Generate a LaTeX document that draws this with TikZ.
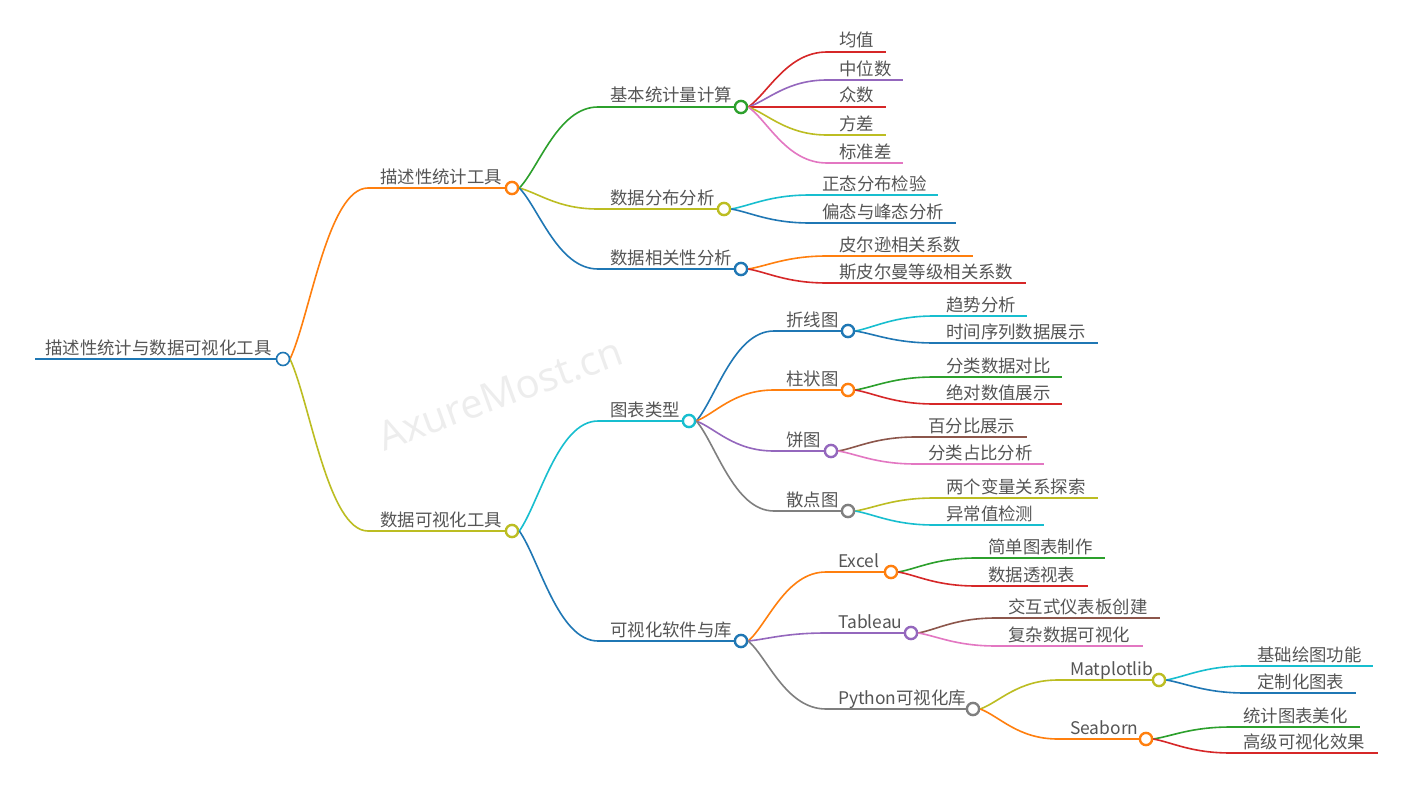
\documentclass[tikz,border=0pt]{standalone}
\usepackage{fontspec}
\setmainfont{Noto Sans CJK SC}
\newfontfamily\wmfont{Open Sans}
\usetikzlibrary{calc}
\definecolor{cblue}{HTML}{1F77B4}
\definecolor{corange}{HTML}{FF7F0E}
\definecolor{cgreen}{HTML}{2CA02C}
\definecolor{cred}{HTML}{D62728}
\definecolor{cpurple}{HTML}{9467BD}
\definecolor{cbrown}{HTML}{8C564B}
\definecolor{cpink}{HTML}{E377C2}
\definecolor{cgray}{HTML}{7F7F7F}
\definecolor{colive}{HTML}{BCBD22}
\definecolor{ccyan}{HTML}{17BECF}
\definecolor{txt}{HTML}{555555}
\tikzset{
  lbl/.style={anchor=base west, inner sep=0pt, text=txt, font=\fontsize{17.4}{20}\selectfont},
  ul/.style={line width=1.6pt},
  conn/.style={line width=1.6pt},
  dotc/.style={circle, draw=#1, fill=white, line width=1.6pt, minimum size=13pt, inner sep=0pt},
}
% parent node: name, textx, uy, circle x, colour, text
\newcommand\mmparent[6]{%
  \coordinate (#1L) at (#2-12,#3);
  \node[lbl] (#1T) at (#2,#3-5) {#6};
  \draw[#5, ul] (#1L) -- (#4,#3);
  \node[dotc=#5] (#1) at (#4,#3) {};
}
% leaf node: name, textx, uy, end x, colour, text
\newcommand\mmleaf[6]{%
  \coordinate (#1L) at (#2-12,#3);
  \coordinate (#1R) at (#4,#3);
  \node[lbl] (#1T) at (#2,#3-5) {#6};
  \draw[#5, ul] (#1L) -- (#1R);
}
% connector: parent, child, colour
\newcommand\mmlink[3]{%
  \draw[#3, conn] (#1.east) .. controls ($(#1.east)!0.25!(#2L)$) and +(-40,0) .. (#2L);
}
\begin{document}
\begin{tikzpicture}[x=1pt, y=-1pt]
\fill[white] (0,0) rectangle (1411,792);
\useasboundingbox (0,0) rectangle (1411,792);
% watermark
\node[rotate=20, text=black!7, font=\wmfont\fontsize{40}{46}\selectfont] (wm) at (500,394) {AxureMost.cn};

% connectors from the root
\coordinate (R0) at (290,359);
\draw[corange, conn] (R0) .. controls ($(R0)!0.25!(370,188)$) and (328,188) .. (368,188);
\draw[colive, conn] (R0) .. controls ($(R0)!0.25!(370,531)$) and (328,531) .. (368,531);

% ---------- nodes ----------
\coordinate (RL) at (35,359);
\node[lbl] (RT) at (45,354) {描述性统计与数据可视化工具};
\draw[cblue, ul] (RL) -- (283,359);

\mmparent{A}{380}{188}{512}{corange}{描述性统计工具}
\mmparent{B}{380}{531}{512}{colive}{数据可视化工具}

\mmparent{AA}{610}{107}{741}{cgreen}{基本统计量计算}
\mmparent{AB}{610}{209}{724}{colive}{数据分布分析}
\mmparent{AC}{610}{269}{741}{cblue}{数据相关性分析}

\mmleaf{AAa}{839}{52}{886}{cred}{均值}
\mmleaf{AAb}{839}{80}{903}{cpurple}{中位数}
\mmleaf{AAc}{839}{107}{886}{cred}{众数}
\mmleaf{AAd}{839}{135}{886}{colive}{方差}
\mmleaf{AAe}{839}{163}{903}{cpink}{标准差}

\mmleaf{ABa}{822}{195}{938}{ccyan}{正态分布检验}
\mmleaf{ABb}{822}{223}{956}{cblue}{偏态与峰态分析}

\mmleaf{ACa}{839}{256}{973}{corange}{皮尔逊相关系数}
\mmleaf{ACb}{839}{283}{1026}{cred}{斯皮尔曼等级相关系数}

\mmparent{BA}{610}{421}{689}{ccyan}{图表类型}
\mmparent{BB}{610}{641}{741}{cblue}{可视化软件与库}

\mmparent{BAa}{786}{331}{848}{cblue}{折线图}
\mmparent{BAb}{786}{390}{848}{corange}{柱状图}
\mmparent{BAc}{786}{451}{831}{cpurple}{饼图}
\mmparent{BAd}{786}{511}{848}{cgray}{散点图}

\mmleaf{BAa1}{946}{316}{1027}{ccyan}{趋势分析}
\mmleaf{BAa2}{946}{343}{1098}{cblue}{时间序列数据展示}
\mmleaf{BAb1}{946}{377}{1062}{cgreen}{分类数据对比}
\mmleaf{BAb2}{946}{404}{1062}{cred}{绝对数值展示}
\mmleaf{BAc1}{928}{437}{1027}{cbrown}{百分比展示}
\mmleaf{BAc2}{928}{464}{1044}{cpink}{分类占比分析}
\mmleaf{BAd1}{946}{498}{1098}{colive}{两个变量关系探索}
\mmleaf{BAd2}{946}{525}{1044}{ccyan}{异常值检测}

\mmparent{BBa}{838}{572}{891}{corange}{Excel}
\mmparent{BBb}{838}{633}{911}{cpurple}{Tableau}
\mmparent{BBc}{838}{709}{973}{cgray}{Python可视化库}

\mmleaf{BBa1}{988}{558}{1105}{cgreen}{简单图表制作}
\mmleaf{BBa2}{988}{586}{1088}{cred}{数据透视表}
\mmleaf{BBb1}{1008}{618}{1160}{cbrown}{交互式仪表板创建}
\mmleaf{BBb2}{1008}{646}{1143}{cpink}{复杂数据可视化}

\mmparent{BBc1}{1070}{680}{1159}{colive}{Matplotlib}
\mmparent{BBc2}{1070}{739}{1146}{corange}{Seaborn}

\mmleaf{M1}{1257}{666}{1373}{ccyan}{基础绘图功能}
\mmleaf{M2}{1257}{693}{1356}{cblue}{定制化图表}
\mmleaf{S1}{1243}{727}{1360}{cgreen}{统计图表美化}
\mmleaf{S2}{1243}{753}{1378}{cred}{高级可视化效果}

% ---------- connectors ----------
\mmlink{A}{AA}{cgreen}
\mmlink{A}{AB}{colive}
\mmlink{A}{AC}{cblue}
\mmlink{AA}{AAa}{cred}
\mmlink{AA}{AAb}{cpurple}
\mmlink{AA}{AAc}{cred}
\mmlink{AA}{AAd}{colive}
\mmlink{AA}{AAe}{cpink}
\mmlink{AB}{ABa}{ccyan}
\mmlink{AB}{ABb}{cblue}
\mmlink{AC}{ACa}{corange}
\mmlink{AC}{ACb}{cred}
\mmlink{B}{BA}{ccyan}
\mmlink{B}{BB}{cblue}
\mmlink{BA}{BAa}{cblue}
\mmlink{BA}{BAb}{corange}
\mmlink{BA}{BAc}{cpurple}
\mmlink{BA}{BAd}{cgray}
\mmlink{BAa}{BAa1}{ccyan}
\mmlink{BAa}{BAa2}{cblue}
\mmlink{BAb}{BAb1}{cgreen}
\mmlink{BAb}{BAb2}{cred}
\mmlink{BAc}{BAc1}{cbrown}
\mmlink{BAc}{BAc2}{cpink}
\mmlink{BAd}{BAd1}{colive}
\mmlink{BAd}{BAd2}{ccyan}
\mmlink{BB}{BBa}{corange}
\mmlink{BB}{BBb}{cpurple}
\mmlink{BB}{BBc}{cgray}
\mmlink{BBa}{BBa1}{cgreen}
\mmlink{BBa}{BBa2}{cred}
\mmlink{BBb}{BBb1}{cbrown}
\mmlink{BBb}{BBb2}{cpink}
\mmlink{BBc}{BBc1}{colive}
\mmlink{BBc}{BBc2}{corange}
\mmlink{BBc1}{M1}{ccyan}
\mmlink{BBc1}{M2}{cblue}
\mmlink{BBc2}{S1}{cgreen}
\mmlink{BBc2}{S2}{cred}

% redraw circles on top of the connectors
\foreach \n/\c in {A/corange,B/colive,AA/cgreen,AB/colive,AC/cblue,BA/ccyan,BB/cblue,BAa/cblue,BAb/corange,BAc/cpurple,BAd/cgray,BBa/corange,BBb/cpurple,BBc/cgray,BBc1/colive,BBc2/corange}
  \draw[\c, fill=white, line width=1.6pt] (\n.center) circle (5.7pt);
\node[dotc=cblue] (R) at (283,359) {};
\end{tikzpicture}
\end{document}
